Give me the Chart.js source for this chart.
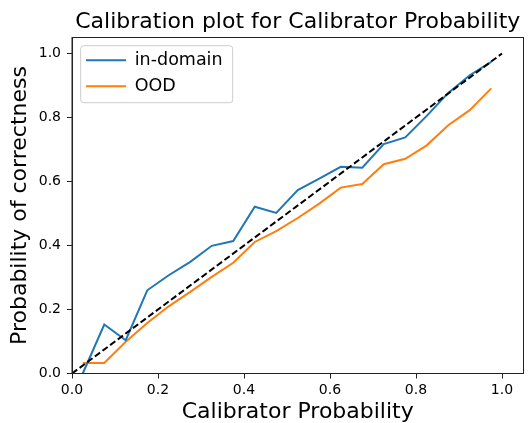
<!DOCTYPE html>
<html>
<head>
    <title>Calibration plot</title>
    <script src="https://cdn.jsdelivr.net/npm/chart.js"></script>
    <style>
        body { margin: 0; background: #fff; }
        canvas { display: block; }
    </style>
</head>
<body>
    <canvas id="calib" width="529" height="423"></canvas>
    <script>
        // bin centres and observed accuracy per bin
        const binCenters = [0.025, 0.075, 0.125, 0.175, 0.225, 0.275, 0.325, 0.375, 0.425, 0.475,
                            0.525, 0.575, 0.625, 0.675, 0.725, 0.775, 0.825, 0.875, 0.925, 0.975];
        const inDomain = [0.0, 0.153, 0.104, 0.26, 0.307, 0.349, 0.399, 0.414, 0.521, 0.502,
                          0.573, 0.609, 0.646, 0.643, 0.717, 0.738, 0.805, 0.877, 0.932, 0.974];
        const ood = [0.033, 0.033, 0.099, 0.158, 0.21, 0.255, 0.302, 0.346, 0.411, 0.445,
                     0.486, 0.531, 0.581, 0.592, 0.654, 0.671, 0.713, 0.776, 0.823, 0.891];
        const diagX = [0, 1];
        const diagY = [0, 1];
        const tickValues = [0, 0.2, 0.4, 0.6, 0.8, 1.0];

        const FONT = 'DejaVu Sans';

        const toPoints = (xs, ys) => xs.map((x, i) => ({x: x, y: ys[i]}));

        // matplotlib-like frame + legend box
        const framePlugin = {
            id: 'frame',
            afterLayout(chart) {
                // put the legend inside the axes, upper left
                const a = chart.chartArea;
                const lg = chart.legend;
                const w = lg.width, h = lg.height;
                lg.left = a.left + 5.5;
                lg.top = a.top + 5.5;
                lg.right = lg.left + w;
                lg.bottom = lg.top + h;
            },
            beforeDraw(chart) {
                const ctx = chart.ctx;
                const a = chart.chartArea;
                ctx.save();
                ctx.fillStyle = 'rgba(255,255,255,0.8)';
                ctx.strokeStyle = '#cccccc';
                ctx.lineWidth = 1;
                ctx.beginPath();
                ctx.roundRect(a.left + 8.7, a.top + 8.2, 152, 57, 3);
                ctx.fill();
                ctx.stroke();
                ctx.restore();
            },
            afterDraw(chart) {
                const ctx = chart.ctx;
                const a = chart.chartArea;
                ctx.save();
                ctx.strokeStyle = '#222';
                ctx.lineWidth = 1;
                ctx.strokeRect(a.left, a.top, a.right - a.left, a.bottom - a.top);
                ctx.restore();
            }
        };

        const axisCommon = {
            type: 'linear',
            min: 0,
            max: 1.05,
            afterBuildTicks: s => { s.ticks = tickValues.map(v => ({value: v})); },
            grid: { drawOnChartArea: false, drawTicks: true, tickLength: 5, color: '#222' },
            border: { display: true, color: '#222', width: 1 },
        };

        new Chart(document.getElementById('calib'), {
            type: 'line',
            data: {
                datasets: [
                    {
                        label: 'in-domain',
                        data: toPoints(binCenters, inDomain),
                        borderColor: '#1f77b4',
                        backgroundColor: '#1f77b4',
                        borderWidth: 2,
                        pointRadius: 0,
                        tension: 0,
                        order: 1
                    },
                    {
                        label: 'OOD',
                        data: toPoints(binCenters, ood),
                        borderColor: '#ff7f0e',
                        backgroundColor: '#ff7f0e',
                        borderWidth: 2,
                        pointRadius: 0,
                        tension: 0,
                        order: 2
                    },
                    {
                        label: 'diag',
                        data: toPoints(diagX, diagY),
                        borderColor: '#000',
                        borderWidth: 2,
                        borderDash: [6.5, 3],
                        pointRadius: 0,
                        order: 0
                    }
                ]
            },
            options: {
                responsive: false,
                animation: false,
                layout: { padding: { left: 0, right: 5.5, top: 0, bottom: 0 } },
                plugins: {
                    title: {
                        display: true,
                        fullSize: false,
                        text: 'Calibration plot for Calibrator Probability',
                        color: '#000',
                        font: { family: FONT, size: 22, weight: 'normal', lineHeight: 1.2 },
                        padding: { top: 8.8, bottom: 2.3 }
                    },
                    legend: {
                        position: 'chartArea',
                        align: 'start',
                        labels: {
                            color: '#000',
                            font: { family: FONT, size: 17.5 },
                            boxWidth: 40,
                            boxHeight: 2,
                            padding: 8.5,
                            filter: item => item.text !== 'diag',
                            generateLabels: chart => Chart.defaults.plugins.legend.labels
                                .generateLabels(chart).map(it => ({...it, lineWidth: 0}))
                        }
                    },
                    tooltip: { enabled: false }
                },
                scales: {
                    x: {
                        ...axisCommon,
                        afterFit: s => {
                            s.height = 49.5;
                            s.paddingLeft = 0; s.paddingRight = 0;
                        },
                        ticks: {
                            color: '#000',
                            padding: 3,
                            autoSkip: false,
                            maxRotation: 0,
                            font: { family: FONT, size: 14 },
                            callback: v => v.toFixed(1)
                        },
                        title: {
                            display: true,
                            text: 'Calibrator Probability',
                            color: '#000',
                            font: { family: FONT, size: 22, lineHeight: 1 },
                            padding: { top: 0.6, bottom: 0 }
                        }
                    },
                    y: {
                        ...axisCommon,
                        afterFit: s => {
                            s.width = 72;
                            s.paddingTop = 0; s.paddingBottom = 0;
                        },
                        ticks: {
                            color: '#000',
                            padding: 6,
                            autoSkip: false,
                            font: { family: FONT, size: 14 },
                            callback: v => v.toFixed(1)
                        },
                        title: {
                            display: true,
                            text: 'Probability of correctness',
                            color: '#000',
                            font: { family: FONT, size: 22, lineHeight: 1 },
                            padding: { top: 9.2, bottom: 0 }
                        }
                    }
                }
            },
            plugins: [framePlugin]
        });
    </script>
</body>
</html>
